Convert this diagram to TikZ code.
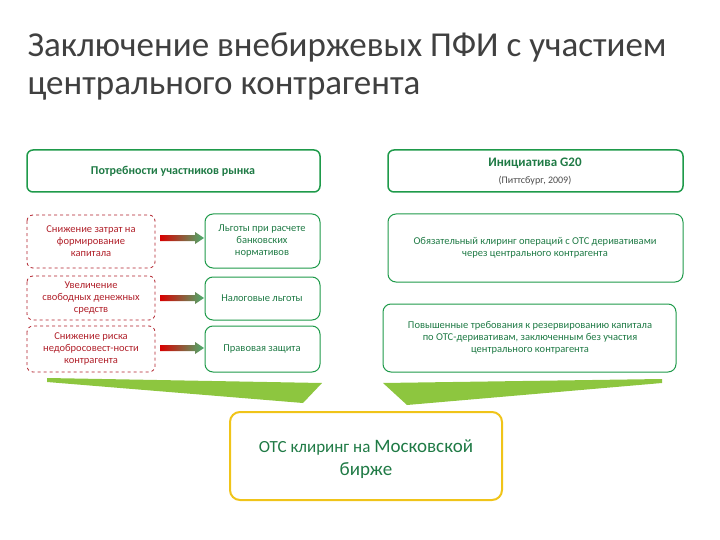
\documentclass[tikz,border=0pt]{standalone}
\usepackage{fontspec}
\setmainfont{Carlito}
\usetikzlibrary{shapes.geometric}
\definecolor{gr}{HTML}{1E9A4A}
\definecolor{dg}{HTML}{1F7A45}
\definecolor{rd}{HTML}{B0202A}
\definecolor{lg}{HTML}{8DC63F}
\definecolor{yl}{HTML}{F0C419}
\begin{document}
\begin{tikzpicture}[x=1pt,y=-1pt,
 hdr/.style={draw=gr,line width=1.5pt,rounded corners=6pt},
 gbox/.style={draw=gr,line width=1pt,rounded corners=8pt},
 rbox/.style={draw=rd,dashed,line width=0.8pt,rounded corners=6pt},
 rt/.style={text=rd,font=\fontsize{10.5}{12}\selectfont,align=center},
 gt/.style={text=dg,font=\fontsize{10.5}{12}\selectfont,align=center}]
\useasboundingbox (0,0) rectangle (720,540);
\node[anchor=west,font=\fontsize{35}{38}\selectfont,text=black!75,align=left] (title) at (24,66) {Заключение внебиржевых ПФИ с участием\\центрального контрагента};
% headers
\draw[hdr] (27,150) rectangle (320,192);
\node[gt,font=\bfseries\fontsize{12}{14}\selectfont] (h1) at (173,171) {Потребности участников рынка};
\draw[hdr] (388,150) rectangle (683,192);
\node[gt,font=\bfseries\fontsize{13}{14}\selectfont] (h2) at (535,163) {Инициатива G20};
\node[gt,text=black!70,font=\fontsize{10}{12}\selectfont] (h2b) at (535,181) {(Питтсбург, 2009)};
% left red boxes
\draw[rbox] (27,215) rectangle (155,268);
\node[rt] (l1) at (91,241) {Снижение затрат на\\формирование\\капитала};
\draw[rbox] (27,276) rectangle (155,320);
\node[rt] (l2) at (91,298) {Увеличение\\свободных денежных\\средств};
\draw[rbox] (27,326) rectangle (155,372);
\node[rt] (l3) at (91,349) {Снижение риска\\недобросовест-ности\\контрагента};
% right green boxes
\draw[gbox] (205,214) rectangle (320,268);
\node[gt] (r1) at (262,241) {Льготы при расчете\\банковских\\нормативов};
\draw[gbox] (205,277) rectangle (320,320);
\node[gt] (r2) at (262,298) {Налоговые льготы};
\draw[gbox] (205,326) rectangle (320,372);
\node[gt] (r3) at (262,349) {Правовая защита};
% arrows
\foreach \y in {238,298,348}{
 \shade[left color=red!85!black,right color=gr!80] (160,\y-3) -- (195,\y-3) -- (195,\y-6) -- (204,\y) -- (195,\y+6) -- (195,\y+3) -- (160,\y+3) -- cycle;
}
% right boxes
\draw[gbox] (388,214) rectangle (683,282);
\node[gt] (p1) at (535,248) {Обязательный клиринг операций с OTC деривативами\\через центрального контрагента};
\draw[gbox] (383,304) rectangle (676,372);
\node[gt] (p2) at (530,338) {Повышенные требования к резервированию капитала\\по OTC-деривативам, заключенным без участия\\центрального контрагента};
% wedges
\fill[lg] (47,378) -- (322,383) -- (303,403) -- (47,382) -- cycle;
\fill[lg] (383,383) -- (662,379) -- (662,383) -- (407,405) -- cycle;
% bottom
\draw[draw=yl,line width=2pt,rounded corners=10pt] (230,412) rectangle (502,500);
\node[text=dg,align=center,font=\fontsize{17}{23}\selectfont] (b) at (366,459) {OTC клиринг на {\fontsize{19}{23}\selectfont Московской}\\{\fontsize{19}{23}\selectfont бирже}};
\end{tikzpicture}
\end{document}
